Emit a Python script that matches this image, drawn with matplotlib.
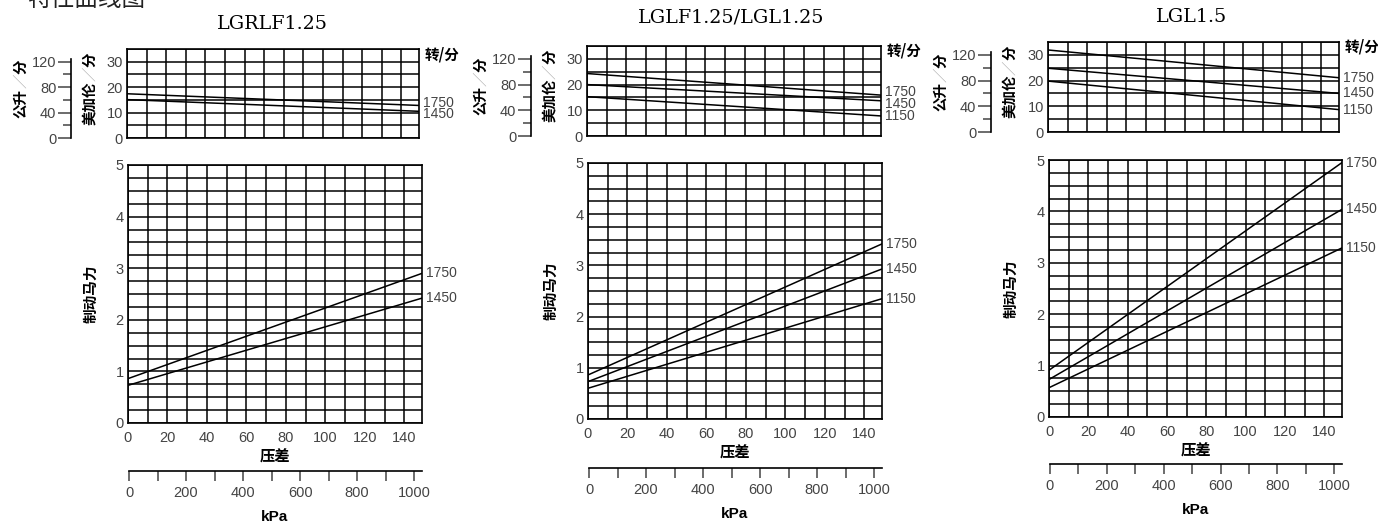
import matplotlib
matplotlib.use("Agg")
import matplotlib.pyplot as plt
import numpy as np

# ---- data ----
psi = [0, 149]                      # 压差 (psi) end points of each straight curve
kpa_ticks = list(range(0, 1001, 100))
kpa_labels = ["0", "", "200", "", "400", "", "600", "", "800", "", "1000"]
lmin_ticks = [0, 40, 80, 120]

titles = ["LGRLF1.25", "LGLF1.25/LGL1.25", "LGL1.5"]

speeds_1 = ["1750", "1450"]
flow_1 = [[17.4, 12.8], [15.1, 10.5]]          # 美加伦/分
hp_1 = [[0.86, 2.90], [0.73, 2.42]]            # 制动马力

speeds_2 = ["1750", "1450", "1150"]
flow_2 = [[24.3, 15.9], [20.0, 13.7], [15.3, 7.8]]
hp_2 = [[0.86, 3.42], [0.73, 2.93], [0.60, 2.35]]

speeds_3 = ["1750", "1450", "1150"]
flow_3 = [[31.9, 21.1], [24.8, 15.0], [19.8, 8.7]]
hp_3 = [[0.91, 4.95], [0.73, 4.04], [0.57, 3.29]]

W, H = 1378, 523
GRAY = "#444444"
NUM = ["Liberation Sans Narrow", "Liberation Sans", "DejaVu Sans"]
CJK = ["Noto Sans CJK SC", "DejaVu Sans"]
plt.rcParams["font.family"] = NUM


def rect(l, t, r, b):
    return [l / W, 1 - b / H, (r - l) / W, (b - t) / H]


def ftext(x, y, s, **kw):
    return fig.text(x / W, 1 - y / H, s, **kw)


def vlabel(x, cy, head, unit, em=14.5):
    # vertical label "head／unit", slash drawn light grey like the print
    n = len(head) + 2
    y0 = cy + n * em / 2          # bottom of the text column
    ftext(x, y0 - len(head) * em / 2, head, family=CJK, weight="bold",
          fontsize=em / 1.39, rotation=90, ha="center", va="center")
    ftext(x, y0 - (len(head) + 0.5) * em, "／", family=CJK,
          fontsize=em / 1.39, rotation=90, ha="center", va="center",
          color="#b0b0b0")
    ftext(x, y0 - (len(head) + 1.5) * em, unit, family=CJK, weight="bold",
          fontsize=em / 1.39, rotation=90, ha="center", va="center")


def spread(ends, gap):
    # keep right-hand speed labels from overlapping
    pos = list(ends)
    for i in range(1, len(pos)):
        if pos[i - 1] - pos[i] < gap:
            mid = (pos[i - 1] + pos[i]) / 2
            pos[i - 1] = max(pos[i - 1], mid + gap / 2)
            pos[i] = mid - gap / 2
    return pos


def grid_axes(ax, ylim, ymaj, ymin_step):
    ax.set_xlim(0, 149)
    ax.set_ylim(*ylim)
    ax.set_xticks(np.arange(0, 150, 20))
    ax.set_xticks(np.arange(0, 150, 10), minor=True)
    ax.set_yticks(ymaj)
    ax.set_yticks(np.arange(0, ylim[1] + 0.001, ymin_step), minor=True)
    ax.grid(which="both", color="black", lw=1.1)
    ax.set_axisbelow(True)
    for s in ax.spines.values():
        s.set_linewidth(1.2)
    ax.tick_params(which="both", length=0, colors=GRAY, labelsize=10.5, pad=3)


def panel(ox, top, bot, kpa_y, title, title_xy, speeds, flow, hp):
    # flow (top) chart
    at = fig.add_axes(rect(*top))
    grid_axes(at, (0, 35), [0, 10, 20, 30], 5)
    at.set_xticklabels([])
    for s, v in zip(speeds, flow):
        at.plot(psi, v, color="black", lw=1.1)
    h_px = top[3] - top[1]
    ypos = spread([v[-1] for v in flow], 11.5 * 35 / h_px)
    for s, y in zip(speeds, ypos):
        at.text(151, y, s, fontsize=10, color=GRAY, va="center", ha="left",
                clip_on=False)
    ftext(top[2] + 6, top[1] + 5, "转/分", family=CJK, weight="bold",
          fontsize=10.5, va="center")

    # 公升/分 scale
    sx = ox + 71
    al = fig.add_axes(rect(sx, top[1], sx + 1, top[3]))
    al.set_ylim(0, 140)
    al.set_xticks([])
    for k in ["top", "right", "bottom"]:
        al.spines[k].set_visible(False)
    al.spines["left"].set_bounds(0, 125)
    al.spines["left"].set_linewidth(1.2)
    al.set_yticks(lmin_ticks)
    al.set_yticks([20, 60, 100], minor=True)
    al.tick_params(which="major", length=9.5, width=1.1, colors=GRAY,
                   labelsize=10.5, pad=1)
    al.tick_params(which="minor", length=6, width=1.1, color=GRAY)
    al.patch.set_visible(False)

    cy = (top[1] + top[3]) / 2 - 5
    vlabel(ox + 21, cy, "公升", "分")
    vlabel(ox + 90, cy, "美加伦", "分")

    # brake horsepower chart
    ab = fig.add_axes(rect(*bot))
    grid_axes(ab, (0, 5), [0, 1, 2, 3, 4, 5], 0.25)
    ab.tick_params(axis="x", pad=6)
    for s, v in zip(speeds, hp):
        ab.plot(psi, v, color="black", lw=1.1)
        ab.text(151, v[-1], s, fontsize=10, color=GRAY, va="center",
                ha="left", clip_on=False)
    ftext(ox + 90, (bot[1] + bot[3]) / 2, "制动马力", family=CJK,
          weight="bold", fontsize=10.5, rotation=90, ha="center", va="center")
    ftext((bot[0] + bot[2]) / 2, bot[3] + 34, "压差", family=CJK,
          weight="bold", fontsize=11, ha="center", va="center")

    # kPa scale
    ak = fig.add_axes(rect(bot[0] + 1, kpa_y - 1, bot[2], kpa_y))
    ak.set_xlim(0, 149 * 6.895)
    ak.set_yticks([])
    for k in ["top", "right", "left"]:
        ak.spines[k].set_visible(False)
    ak.spines["bottom"].set_linewidth(1.2)
    ak.set_xticks(kpa_ticks)
    ak.set_xticklabels(kpa_labels)
    ak.tick_params(length=7.5, width=1.1, colors=GRAY, labelsize=10.5, pad=3)
    ak.patch.set_visible(False)
    ftext((bot[0] + bot[2]) / 2, kpa_y + 46, "kPa", weight="bold",
          fontsize=11, family=["Liberation Sans", "DejaVu Sans"],
          ha="center", va="center")

    ftext(title_xy[0], title_xy[1], title, family="DejaVu Serif",
          fontsize=13.8, ha="center", va="center")


fig = plt.figure(figsize=(W / 100, H / 100), dpi=100)

ftext(27, -1, "特性曲线图", family=CJK, fontsize=17, ha="left", va="center",
      color="#222222")

panel(0, (127, 49, 419, 138), (128, 165, 422, 423), 471,
      titles[0], (272, 24), speeds_1, flow_1, hp_1)
panel(460, (587, 46, 881, 136), (588, 163, 882, 419), 468,
      titles[1], (731, 18), speeds_2, flow_2, hp_2)
panel(920, (1048, 42, 1339, 132), (1049, 160, 1342, 417), 464,
      titles[2], (1192, 17), speeds_3, flow_3, hp_3)

fig.savefig("out.png", dpi=100)
